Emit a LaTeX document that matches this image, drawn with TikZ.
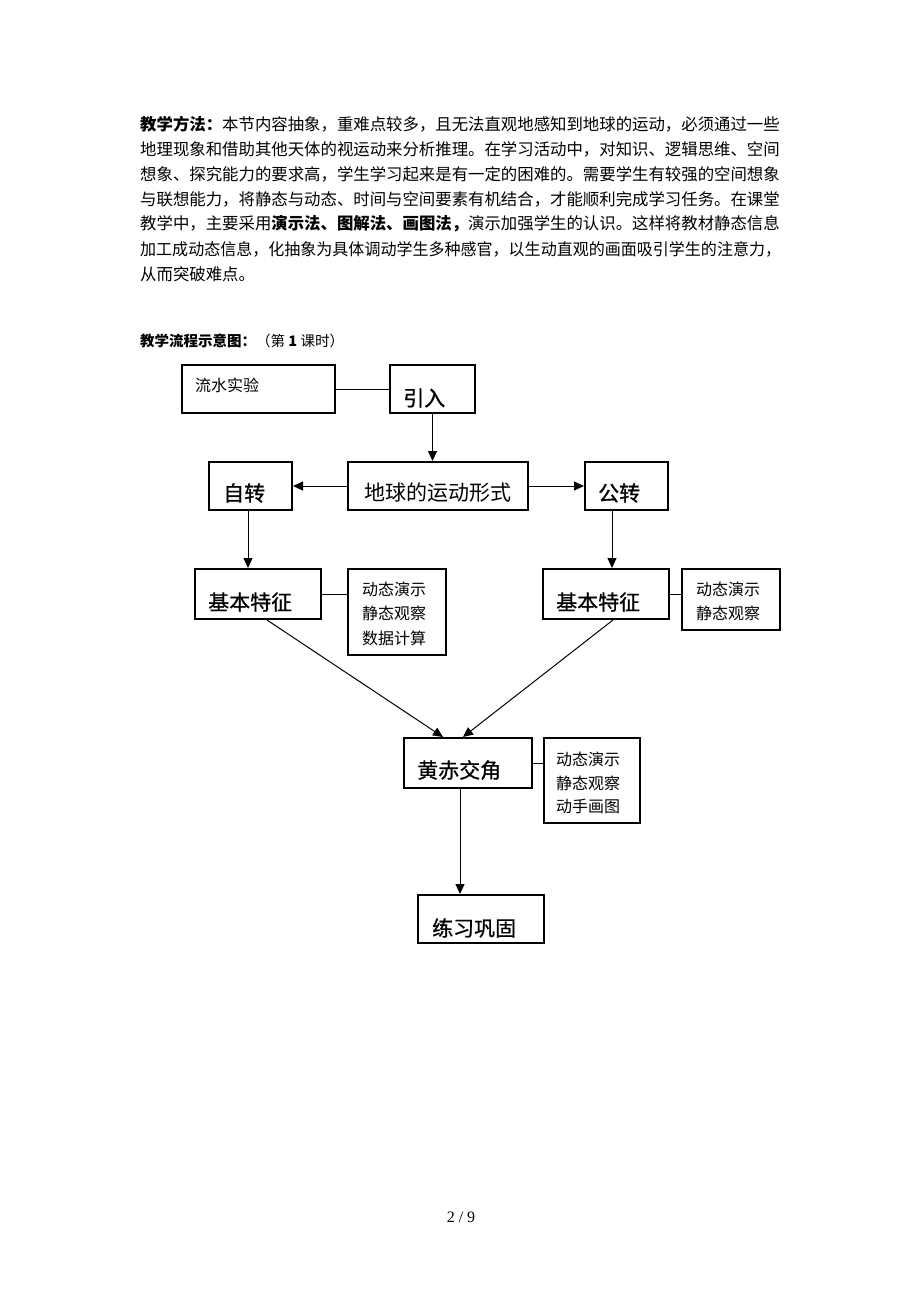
\documentclass[tikz,border=0pt]{standalone}
\usepackage{fontspec}
\usepackage{graphicx}
\setmainfont{Liberation Serif}
\newfontfamily\cjk{Noto Sans CJK SC}
\newfontfamily\cjkmed[FakeBold=0.8]{Noto Sans CJK SC}
\usetikzlibrary{arrows.meta}
\newcommand\bx[5]{\node[bx, minimum width=#4pt, minimum height=#5pt] (#1) at (#2,#3) {};}
\begin{document}
\begin{tikzpicture}[x=1pt,y=-1pt,
  bx/.style={draw, line width=2pt, inner sep=0pt},
  lk/.style={line width=1pt},
  ar/.style={line width=1pt, -{Triangle[length=10pt,width=9pt]}},
  para/.style={inner sep=0pt, anchor=west, font={\cjk\fontsize{16.4}{25}\selectfont}},
  big/.style={inner sep=0pt, anchor=west, font={\cjkmed\fontsize{21}{21}\selectfont}},
  small/.style={inner sep=0pt, anchor=west, font={\cjk\fontsize{16}{16}\selectfont}}]
\useasboundingbox (0,0) rectangle (920,1302);

% paragraph
\node[para] (p1) at (140,124) {{\bfseries 教学方法：}本节内容抽象，重难点较多，且无法直观地感知到地球的运动，必须通过一些};
\node[para] (p2) at (140,149) {地理现象和借助其他天体的视运动来分析推理。在学习活动中，对知识、逻辑思维、空间};
\node[para] (p3) at (140,174) {想象、探究能力的要求高，学生学习起来是有一定的困难的。需要学生有较强的空间想象};
\node[para] (p4) at (140,199) {与联想能力，将静态与动态、时间与空间要素有机结合，才能顺利完成学习任务。在课堂};
\node[para] (p5) at (140,224) {教学中，主要采用{\bfseries 演示法、图解法、画图法，}演示加强学生的认识。这样将教材静态信息};
\node[para] (p6) at (140,249) {\scalebox{0.977}[1]{加工成动态信息，化抽象为具体调动学生多种感官，以生动直观的画面吸引学生的注意力，}};
\node[para] (p7) at (140,274) {从而突破难点。};

\node[inner sep=0pt, anchor=west, font={\cjk\fontsize{14.5}{15}\selectfont}] (title) at (140,341) {{\bfseries 教学流程示意图：}（第 {\bfseries 1} 课时）};

% boxes
\bx{lsy}{258.5}{389}{153}{48}
\bx{yr}{432.5}{389}{85}{48}
\bx{zz}{250.5}{486}{83}{48}
\bx{dq}{438}{486}{180}{48}
\bx{gz}{626.5}{486}{83}{48}
\bx{tz1}{258}{594}{126}{50}
\bx{s1}{397}{612}{98}{86}
\bx{tz2}{606}{594}{126}{50}
\bx{s2}{731}{599.5}{98}{61}
\bx{hc}{468}{763}{128}{50}
\bx{s3}{592}{780.5}{96}{85}
\bx{lx}{481}{919}{126}{48}

% texts
\node[small] (t-lsy) at (195,385) {流水实验};
\node[big] (t-yr) at (403,398) {引入};
\node[big] (t-zz) at (223,493) {自转};
\node[big, anchor=center, font={\cjk\fontsize{21}{21}\selectfont}] (t-dq) at (438,493) {地球的运动形式};
\node[big] (t-gz) at (598,493) {公转};
\node[big] (t-tz1) at (208,602) {基本特征};
\node[small] (t-s1a) at (362,589) {动态演示};
\node[small] (t-s1b) at (362,613) {静态观察};
\node[small] (t-s1c) at (362,638) {数据计算};
\node[big] (t-tz2) at (556,602) {基本特征};
\node[small] (t-s2a) at (696,589) {动态演示};
\node[small] (t-s2b) at (696,613) {静态观察};
\node[big] (t-hc) at (417,770) {黄赤交角};
\node[small] (t-s3a) at (556,759) {动态演示};
\node[small] (t-s3b) at (556,783) {静态观察};
\node[small] (t-s3c) at (556,806) {动手画图};
\node[big] (t-lx) at (432,928) {练习巩固};

% connectors
\draw[lk] (lsy.east) -- (lsy.east -| yr.west);
\draw[ar] (yr.south) -- (yr.south |- dq.north);
\draw[ar] (dq.west) -- (zz.east);
\draw[ar] (dq.east) -- (gz.west);
\draw[ar] ([xshift=-2.5pt]zz.south) -- ([xshift=-2.5pt]zz.south |- tz1.north);
\draw[ar] ([xshift=-14.5pt]gz.south) -- ([xshift=-14.5pt]gz.south |- tz2.north);
\draw[lk] (tz1.east) -- (tz1.east -| s1.west);
\draw[lk] (tz2.east) -- (tz2.east -| s2.west);
\draw[lk] (hc.east) -- (hc.east -| s3.west);
\draw[ar] ([xshift=9pt]tz1.south) -- ([xshift=-25pt]hc.north);
\draw[ar] ([xshift=7pt]tz2.south) -- ([xshift=-5pt]hc.north);
\draw[ar] ([xshift=-8pt]hc.south) -- ([xshift=-8pt]hc.south |- lx.north);

\node[inner sep=0pt, font={\fontsize{16}{16}\selectfont}] (page) at (461,1217) {2 / 9};
\end{tikzpicture}
\end{document}
